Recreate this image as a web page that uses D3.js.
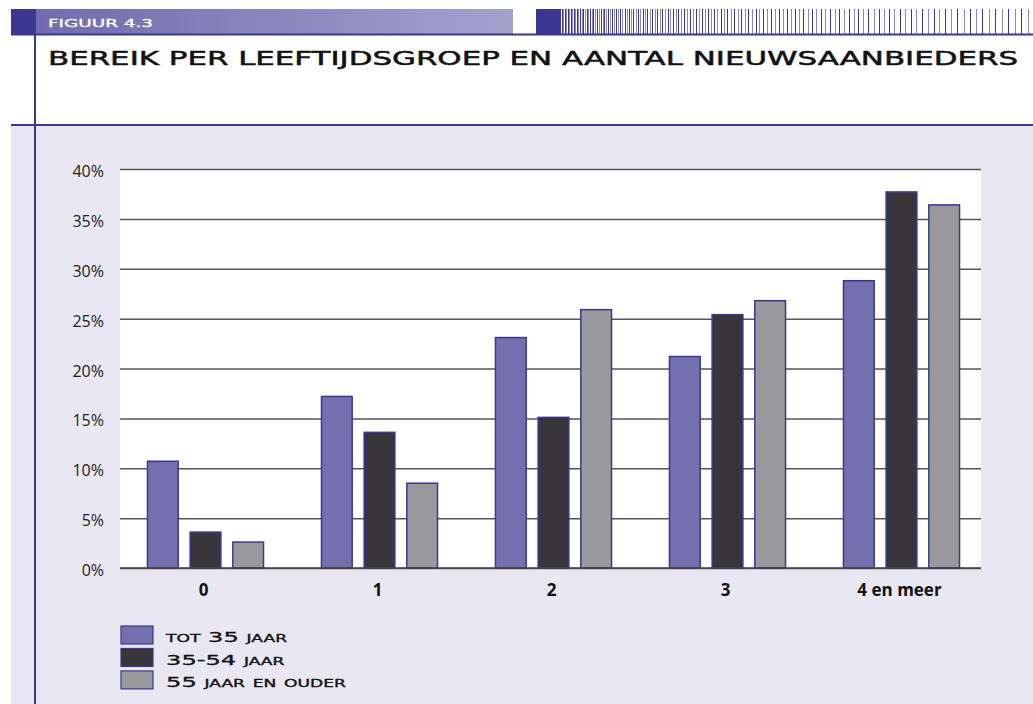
<!DOCTYPE html>
<html>
<head>
<meta charset="utf-8">
<title>Bereik per leeftijdsgroep</title>
<script src="https://cdn.jsdelivr.net/npm/d3@7"></script>
<style>
  body { margin: 0; background: #fff; }
  svg { display: block; }
</style>
</head>
<body>
<div id="chart"></div>
<script>
(function() {
  'use strict';

  // data
  var categories = ['0', '1', '2', '3', '4 en meer'];
  var series = ['tot 35 jaar', '35-54 jaar', '55 jaar en ouder'];
  var tot35 = [10.7, 17.2, 23.1, 21.2, 28.8];
  var van35tot54 = [3.6, 13.6, 15.1, 25.4, 37.7];
  var vanaf55 = [2.6, 8.5, 25.9, 26.8, 36.4];
  var yTicks = [0, 5, 10, 15, 20, 25, 30, 35, 40];

  var values = [tot35, van35tot54, vanaf55];
  var colors = ['#7370b0', '#38363a', '#99989d'];
  var navy = '#3b3791';
  var wideFont = '"DejaVu Sans", sans-serif';
  var bodyFont = '"Open Sans", "Noto Sans", sans-serif';

  var width = 1033, height = 704;
  var plot = { left: 120, right: 981, top: 169, bottom: 568 };

  var svg = d3.select('#chart').append('svg')
    .attr('width', width)
    .attr('height', height);

  // ---- header band ----
  var defs = svg.append('defs');
  var grad = defs.append('linearGradient').attr('id', 'hdr').attr('x1', '0').attr('x2', '1');
  grad.append('stop').attr('offset', '0').attr('stop-color', '#6d69ad');
  grad.append('stop').attr('offset', '1').attr('stop-color', '#a5a1cd');

  svg.append('rect').attr('x', 11).attr('y', 9).attr('width', 502).attr('height', 25).attr('fill', 'url(#hdr)');
  svg.append('rect').attr('x', 11).attr('y', 9).attr('width', 25).attr('height', 25).attr('fill', navy);
  svg.append('rect').attr('x', 536).attr('y', 9).attr('width', 25).attr('height', 25).attr('fill', navy);

  // stripes get sparser to the right
  var stripes = [];
  var sx = 562, step = 1.4;
  while (sx < 1031) {
    stripes.push(sx);
    sx += step;
    step = Math.min(step * 1.012, 6.5);
  }
  svg.append('g').selectAll('line').data(stripes).enter().append('line')
    .attr('x1', function(d) { return Math.round(d) + 0.5; })
    .attr('x2', function(d) { return Math.round(d) + 0.5; })
    .attr('y1', 9).attr('y2', 34)
    .attr('stroke', function(d, i) { return i % 2 ? '#8a87c4' : navy; })
    .attr('stroke-width', 1);

  svg.append('line').attr('x1', 11).attr('x2', 1033).attr('y1', 34.5).attr('y2', 34.5)
    .attr('stroke', navy).attr('stroke-width', 2);

  svg.append('text')
    .attr('x', 48).attr('y', 26.5)
    .attr('font-family', wideFont)
    .attr('font-size', 11)
    .attr('fill', '#ffffff')
    .attr('stroke', '#ffffff').attr('stroke-width', 0.3)
    .attr('textLength', 105).attr('lengthAdjust', 'spacingAndGlyphs')
    .text('FIGUUR 4.3');

  svg.append('text')
    .attr('x', 48).attr('y', 65)
    .attr('font-family', wideFont)
    .attr('font-size', 20)
    .attr('fill', '#111')
    .attr('stroke', '#111').attr('stroke-width', 0.5)
    .attr('textLength', 970).attr('lengthAdjust', 'spacingAndGlyphs')
    .text('BEREIK PER LEEFTIJDSGROEP EN AANTAL NIEUWSAANBIEDERS');

  // ---- body background ----
  svg.append('rect').attr('x', 11).attr('y', 125).attr('width', width - 11).attr('height', height - 125)
    .attr('fill', '#e9e7f2');
  svg.append('line').attr('x1', 11).attr('x2', 1033).attr('y1', 125).attr('y2', 125)
    .attr('stroke', navy).attr('stroke-width', 2);
  svg.append('line').attr('x1', 35).attr('x2', 35).attr('y1', 35).attr('y2', height)
    .attr('stroke', navy).attr('stroke-width', 2);

  // ---- scales ----
  var y = d3.scaleLinear().domain([0, 40]).range([plot.bottom, plot.top]);
  var x0 = d3.scaleBand().domain(categories).range([118.5, 988.5]).paddingInner(0.333).paddingOuter(0.1665);
  var x1 = d3.scaleBand().domain(series).range([0, x0.bandwidth()]).paddingInner(0.28);

  svg.append('rect').attr('x', plot.left).attr('y', plot.top)
    .attr('width', plot.right - plot.left).attr('height', plot.bottom - plot.top)
    .attr('fill', '#fff');

  // grid + y labels
  var yAxis = svg.append('g').attr('transform', 'translate(' + plot.left + ',0)')
    .call(d3.axisLeft(y).tickValues(yTicks).tickSize(-(plot.right - plot.left)).tickPadding(16)
      .tickFormat(function(d) { return d + '%'; }));
  yAxis.select('.domain').remove();
  yAxis.selectAll('.tick line').attr('stroke', '#555').attr('stroke-width', 1.5);
  yAxis.selectAll('.tick text')
    .attr('font-family', bodyFont)
    .attr('font-size', 16)
    .attr('dy', '0.72em').attr('y', -4).attr('fill', '#222');

  // bars
  var groups = svg.append('g').selectAll('g').data(categories).enter().append('g')
    .attr('transform', function(d) { return 'translate(' + x0(d) + ',0)'; });

  groups.selectAll('rect')
    .data(function(c, ci) {
      return series.map(function(s, si) { return { key: s, si: si, v: values[si][ci] }; });
    })
    .enter().append('rect')
    .attr('x', function(d) { return x1(d.key); })
    .attr('y', function(d) { return y(d.v); })
    .attr('width', x1.bandwidth())
    .attr('height', function(d) { return y(0) - y(d.v); })
    .attr('fill', function(d) { return colors[d.si]; })
    .attr('stroke', navy)
    .attr('stroke-width', 1.5);

  // baseline
  svg.append('line').attr('x1', plot.left).attr('x2', plot.right)
    .attr('y1', y(0)).attr('y2', y(0)).attr('stroke', '#444').attr('stroke-width', 1.5);

  // x labels
  svg.append('g').selectAll('text').data(categories).enter().append('text')
    .attr('x', function(d) { return x0(d) + x0.bandwidth() / 2 - 2; })
    .attr('y', 596)
    .attr('font-family', bodyFont)
    .attr('font-size', 17)
    .attr('font-weight', 'bold')
    .attr('fill', '#111')
    .attr('text-anchor', 'middle')
    .text(function(d) { return d; });

  // ---- legend ----
  var legendY = d3.scaleBand().domain(series).range([626, 690]).paddingInner(0.15);
  var legend = svg.append('g').selectAll('g').data(series).enter().append('g')
    .attr('transform', function(d) { return 'translate(121,' + legendY(d) + ')'; });

  legend.append('rect')
    .attr('width', 32).attr('height', 18)
    .attr('fill', function(d, i) { return colors[i]; })
    .attr('stroke', navy).attr('stroke-width', 1.2);

  var labels = legend.append('text')
    .attr('x', 0).attr('y', 16.5)
    .attr('font-family', wideFont)
    .attr('font-size', 14)
    .attr('fill', '#111')
    .attr('stroke', '#111').attr('stroke-width', 0.3)
    .style('font-variant', 'small-caps')
    .text(function(d) { return d; });

  // stretch the labels so they look like the extended face
  var widest = d3.max(labels.nodes(), function(n) { return n.getComputedTextLength(); });
  var sxLegend = 181 / widest;
  labels.attr('transform', 'translate(45,0) scale(' + sxLegend + ',1)');
})();
</script>
</body>
</html>
